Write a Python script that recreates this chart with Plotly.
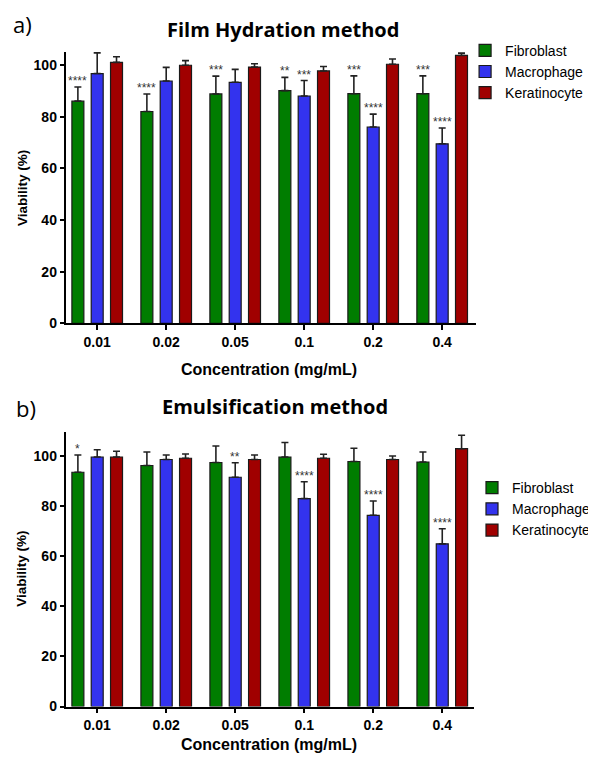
import plotly.graph_objects as go

categories = ["0.01", "0.02", "0.05", "0.1", "0.2", "0.4"]
series_names = ["Fibroblast", "Macrophage", "Keratinocyte"]

# Panel a) Film Hydration method
film_fibro = [86.0, 82.0, 88.8, 90.1, 88.9, 88.9]
film_fibro_err = [5.5, 6.8, 6.9, 5.1, 6.9, 6.9]
film_macro = [96.7, 93.8, 93.3, 88.0, 76.0, 69.5]
film_macro_err = [8.0, 5.3, 5.0, 6.0, 5.0, 6.1]
film_kera = [101.0, 99.9, 99.2, 97.7, 100.3, 103.7]
film_kera_err = [2.2, 1.8, 1.3, 1.7, 2.0, 0.9]
film_fibro_sig = ["****", "****", "***", "**", "***", "***"]
film_macro_sig = ["", "", "", "***", "****", "****"]
film_kera_sig = ["", "", "", "", "", ""]

# Panel b) Emulsification method
emul_fibro = [93.6, 96.3, 97.5, 99.7, 97.9, 97.7]
emul_fibro_err = [6.9, 5.4, 6.6, 5.8, 5.3, 4.0]
emul_macro = [99.7, 98.7, 91.6, 83.1, 76.4, 65.0]
emul_macro_err = [2.9, 1.8, 5.8, 6.7, 5.7, 6.0]
emul_kera = [99.7, 99.2, 98.7, 99.2, 98.7, 103.0]
emul_kera_err = [2.3, 1.7, 1.8, 1.6, 1.4, 5.4]
emul_fibro_sig = ["*", "", "", "", "", ""]
emul_macro_sig = ["", "", "**", "****", "****", "****"]
emul_kera_sig = ["", "", "", "", "", ""]

y_ticks = [0, 20, 40, 60, 80, 100]

COLORS = ["#007d00", "#3333ee", "#a00000"]
BARGAP = 0.16
OFF = 8                      # page body margin
W, H = 596 - OFF, 763 - OFF  # figure size so the page fills the window
FONT = "Liberation Sans"
TFONT = "Open Sans"

fig = go.Figure()

panels = [
    dict(vals=[film_fibro, film_macro, film_kera],
         errs=[film_fibro_err, film_macro_err, film_kera_err],
         sigs=[film_fibro_sig, film_macro_sig, film_kera_sig],
         xa="x", ya="y", legend="legend"),
    dict(vals=[emul_fibro, emul_macro, emul_kera],
         errs=[emul_fibro_err, emul_macro_err, emul_kera_err],
         sigs=[emul_fibro_sig, emul_macro_sig, emul_kera_sig],
         xa="x2", ya="y2", legend="legend2"),
]

annotations = []
slot = (1 - BARGAP) / 3
for p in panels:
    for k, name in enumerate(series_names):
        fig.add_trace(go.Bar(
            x=categories, y=p["vals"][k], name=name,
            xaxis=p["xa"], yaxis=p["ya"], legend=p["legend"],
            marker=dict(color=COLORS[k], line=dict(color="#1a1a1a", width=1.2)),
            error_y=dict(type="data", array=p["errs"][k], symmetric=False,
                         arrayminus=[0] * len(categories),
                         color="#222222", thickness=1.6, width=3.5),
        ))
        for i, s in enumerate(p["sigs"][k]):
            if s:
                annotations.append(dict(
                    x=i + (k - 1) * slot, y=p["vals"][k][i] + p["errs"][k][i],
                    xref=p["xa"], yref=p["ya"], text=s, showarrow=False,
                    yanchor="bottom", yshift=-3,
                    font=dict(family=FONT, size=12, color="#333333")))

def px_x(v):
    return (v - OFF) / W

def px_y(v):
    return 1 - (v - OFF) / H

axis_common = dict(showline=True, linecolor="black", linewidth=1.5,
                   ticks="outside", ticklen=5, tickwidth=1.5, tickcolor="black",
                   showgrid=False, zeroline=False,
                   tickfont=dict(family=FONT, size=14, color="black", weight="bold"))

fig.update_layout(
    width=W, height=H, margin=dict(l=0, r=0, t=0, b=0),
    paper_bgcolor="white", plot_bgcolor="white",
    barmode="group", bargap=BARGAP, bargroupgap=0.38,
    xaxis=dict(domain=[px_x(67), px_x(480)], anchor="y",
               range=[-0.445, 5.49], type="category", **axis_common),
    yaxis=dict(domain=[px_y(326.7), px_y(52.3)], anchor="x",
               range=[0, 105.1], tickvals=y_ticks, **axis_common),
    xaxis2=dict(domain=[px_x(67), px_x(478)], anchor="y2",
                range=[-0.445, 5.46], type="category", **axis_common),
    yaxis2=dict(domain=[px_y(714), px_y(437)], anchor="x2",
                range=[0, 109.5], tickvals=y_ticks, **axis_common),
    legend=dict(x=px_x(469), y=px_y(35), xanchor="left", yanchor="top",
                font=dict(family=FONT, size=14, color="black"),
                bgcolor="rgba(0,0,0,0)"),
    legend2=dict(x=px_x(476), y=px_y(477), xanchor="left", yanchor="top",
                 font=dict(family=FONT, size=14, color="black"),
                 bgcolor="rgba(0,0,0,0)"),
)

texts = [
    dict(x=285, y=30, text="<b>Film Hydration method</b>", size=20, fam=TFONT),
    dict(x=277, y=411, text="<b>Emulsification method</b>", size=20, fam=TFONT),
    dict(x=23, y=24, text="a)", size=22, fam=TFONT),
    dict(x=26, y=412, text="b)", size=22, fam=TFONT),
    dict(x=271, y=373, text="<b>Concentration (mg/mL)</b>", size=16, fam=FONT),
    dict(x=271, y=752, text="<b>Concentration (mg/mL)</b>", size=16, fam=FONT),
]
for t in texts:
    annotations.append(dict(x=px_x(t["x"]), y=px_y(t["y"]), xref="paper", yref="paper",
                            text=t["text"], showarrow=False,
                            xanchor="center", yanchor="middle",
                            font=dict(family=t["fam"], size=t["size"], color="black")))
for yc in [190, 575]:
    annotations.append(dict(x=px_x(22), y=px_y(yc), xref="paper", yref="paper",
                            text="<b>Viability (%)</b>", showarrow=False, textangle=-90,
                            xanchor="center", yanchor="middle",
                            font=dict(family=FONT, size=13.5, color="black")))

fig.update_layout(annotations=annotations)
fig.write_html("out.html")
